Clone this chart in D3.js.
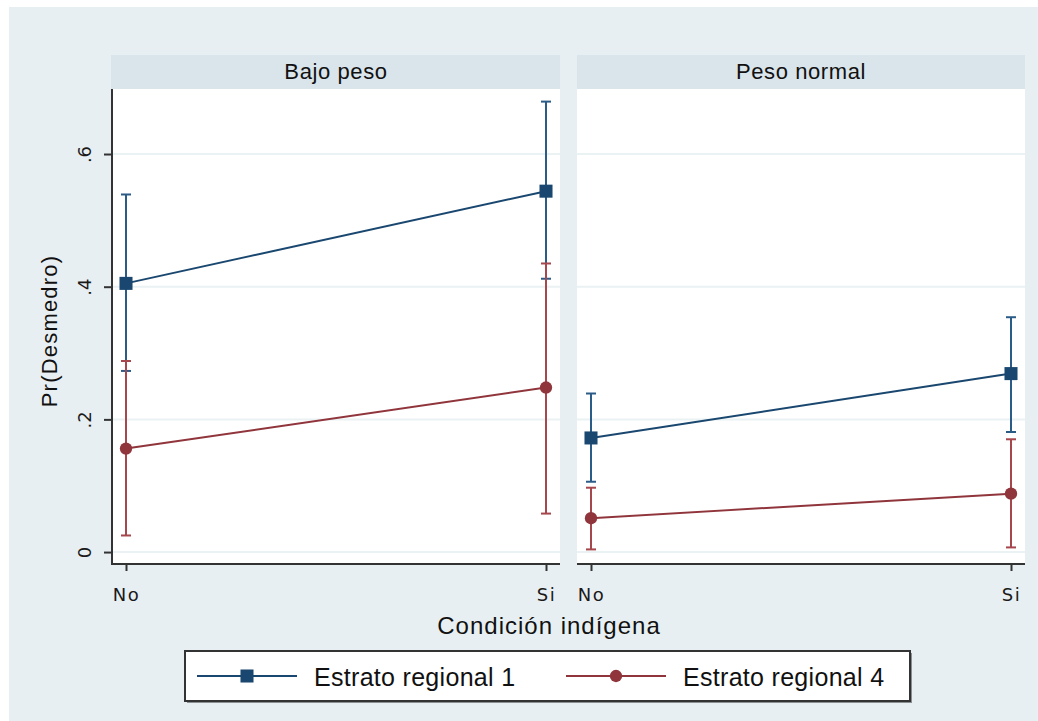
<!DOCTYPE html>
<html>
<head>
  <meta charset="utf-8">
  <title>Pr(Desmedro)</title>
  <script src="https://d3js.org/d3.v7.min.js"></script>
  <style type="text/css">
    html, body { margin: 0; padding: 0; background: #ffffff; }
    svg { display: block; font-family: "Liberation Sans", Arial, sans-serif; }
  </style>
</head>
<body>
<div id="chart"></div>
<script type="text/javascript">
  // values: [panel][category]
  const panels = ['Bajo peso', 'Peso normal'];
  const categories = ['No', 'Si'];
  const seriesNames = ['Estrato regional 1', 'Estrato regional 4'];
  const yTicks = [0, 0.2, 0.4, 0.6];
  const yTickLabels = ['0', '.2', '.4', '.6'];

  const est1 = [[0.405, 0.544], [0.172, 0.269]];
  const lo1  = [[0.273, 0.412], [0.106, 0.181]];
  const hi1  = [[0.539, 0.679], [0.239, 0.354]];
  const est4 = [[0.156, 0.248], [0.051, 0.088]];
  const lo4  = [[0.025, 0.058], [0.004, 0.007]];
  const hi4  = [[0.288, 0.435], [0.097, 0.170]];

  const width = 1038, height = 721;
  const panelLeft = [112, 577], panelW = 448;
  const plotTop = 89, plotBottom = 564;
  const stripTop = 55;

  const colors = ['#1a476f', '#90353b'];
  const ciColors = ['#2b5b87', '#a5474d'];
  const tickFont = '"DejaVu Sans", sans-serif';

  const svg = d3.select('#chart').append('svg')
    .attr('width', width)
    .attr('height', height);

  // graph region background
  svg.append('rect')
    .attr('x', 9).attr('y', 7)
    .attr('width', width - 9).attr('height', height - 7)
    .attr('fill', '#e8eff2');

  const y = d3.scaleLinear()
    .domain([-0.018, 0.698])
    .range([plotBottom, plotTop]);

  const x = d3.scalePoint()
    .domain(categories)
    .range([0, panelW])
    .padding(1 / 30);

  const series = [
    { est: est1, lo: lo1, hi: hi1 },
    { est: est4, lo: lo4, hi: hi4 }
  ];

  panels.forEach((name, p) => {
    const g = svg.append('g')
      .attr('transform', `translate(${panelLeft[p]},0)`);

    // strip
    g.append('rect')
      .attr('x', p === 0 ? -1 : 0).attr('y', stripTop)
      .attr('width', panelW + (p === 0 ? 1 : 0)).attr('height', plotTop - stripTop)
      .attr('fill', '#d9e5eb');
    g.append('text')
      .attr('x', panelW / 2).attr('y', 79)
      .attr('text-anchor', 'middle')
      .style('font-size', '22px')
      .style('letter-spacing', '0.6px')
      .attr('fill', '#111')
      .text(name);

    // plot area
    g.append('rect')
      .attr('x', 0).attr('y', plotTop)
      .attr('width', panelW).attr('height', plotBottom - plotTop)
      .attr('fill', '#ffffff');

    // gridlines
    g.selectAll('.grid').data(yTicks).enter()
      .append('line')
        .attr('x1', 0).attr('x2', panelW)
        .attr('y1', d => y(d)).attr('y2', d => y(d))
        .attr('stroke', '#eaf2f3')
        .attr('stroke-width', 2);

    // confidence intervals
    series.forEach((s, k) => {
      const ci = g.append('g')
        .attr('stroke', ciColors[k])
        .attr('stroke-width', 2)
        .attr('fill', 'none');
      categories.forEach((c, i) => {
        const cx = x(c);
        ci.append('line')
          .attr('x1', cx).attr('x2', cx)
          .attr('y1', y(s.lo[p][i])).attr('y2', y(s.hi[p][i]));
        [s.lo[p][i], s.hi[p][i]].forEach(v => {
          ci.append('line')
            .attr('x1', cx - 5).attr('x2', cx + 5)
            .attr('y1', y(v)).attr('y2', y(v));
        });
      });
    });

    // connected lines + markers
    series.forEach((s, k) => {
      const pts = categories.map((c, i) => [x(c), y(s.est[p][i])]);
      g.append('path')
        .attr('d', d3.line()(pts))
        .attr('fill', 'none')
        .attr('stroke', colors[k])
        .attr('stroke-width', 2);
      const sym = k === 0 ? d3.symbolSquare : d3.symbolCircle;
      const size = k === 0 ? 170 : 120;
      g.selectAll('.m' + k).data(pts).enter()
        .append('path')
          .attr('transform', d => `translate(${d[0]},${d[1]})`)
          .attr('d', d3.symbol().type(sym).size(size))
          .attr('fill', colors[k]);
    });

    // x axis
    const xAxis = g.append('g')
      .attr('transform', `translate(0,${plotBottom})`)
      .call(d3.axisBottom(x).tickSize(7))
      .call(a => a.select('.domain').remove());
    xAxis.append('line')
      .attr('x1', 0).attr('x2', panelW)
      .attr('stroke', '#333').attr('stroke-width', 2);
    xAxis.selectAll('.tick line').attr('stroke', '#333').attr('stroke-width', 2);
    xAxis.selectAll('.tick text')
      .attr('y', 37).attr('dy', null)
      .style('font-family', tickFont)
      .style('font-size', '18px')
      .style('letter-spacing', '1.5px')
      .attr('fill', '#1a1a1a');

    if (p === 0) {
      const yAxis = g.append('g')
        .call(d3.axisLeft(y).tickValues(yTicks).tickSize(8).tickFormat((d, i) => yTickLabels[i]))
        .call(a => a.select('.domain').remove());
      yAxis.append('line')
        .attr('y1', plotTop).attr('y2', plotBottom + 1)
        .attr('stroke', '#333').attr('stroke-width', 2);
      yAxis.selectAll('.tick line').attr('stroke', '#333').attr('stroke-width', 2);
      yAxis.selectAll('.tick text')
        .style('font-family', tickFont)
        .style('font-size', '18px')
        .attr('fill', '#1a1a1a')
        .attr('x', null).attr('dy', null)
        .attr('text-anchor', 'middle')
        .attr('transform', 'translate(-21,0) rotate(-90)');
    }
  });

  // axis titles
  svg.append('text')
    .attr('transform', 'translate(57,331) rotate(-90)')
    .attr('text-anchor', 'middle')
    .style('font-size', '22px')
    .style('letter-spacing', '1.2px')
    .attr('fill', '#111')
    .text('Pr(Desmedro)');

  svg.append('text')
    .attr('x', 549).attr('y', 634)
    .attr('text-anchor', 'middle')
    .style('font-size', '24px')
    .style('letter-spacing', '1px')
    .attr('fill', '#111')
    .text('Condición indígena');

  // legend
  const legend = svg.append('g');
  legend.append('rect')
    .attr('x', 187).attr('y', 653)
    .attr('width', 725).attr('height', 50)
    .attr('fill', '#8a8f92');
  legend.append('rect')
    .attr('x', 185).attr('y', 651)
    .attr('width', 725).attr('height', 50)
    .attr('fill', '#ffffff')
    .attr('stroke', '#333')
    .attr('stroke-width', 2);

  const legendX = [197, 566];
  seriesNames.forEach((name, k) => {
    const lg = legend.append('g').attr('transform', `translate(${legendX[k]},676)`);
    lg.append('line')
      .attr('x1', 0).attr('x2', 100)
      .attr('stroke', colors[k]).attr('stroke-width', 2);
    lg.append('path')
      .attr('transform', 'translate(50,0)')
      .attr('d', d3.symbol().type(k === 0 ? d3.symbolSquare : d3.symbolCircle).size(k === 0 ? 170 : 120))
      .attr('fill', colors[k]);
    lg.append('text')
      .attr('x', 117).attr('y', 10)
      .style('font-size', '25px')
      .style('letter-spacing', '0.3px')
      .attr('fill', '#111')
      .text(name);
  });
</script>
</body>
</html>
